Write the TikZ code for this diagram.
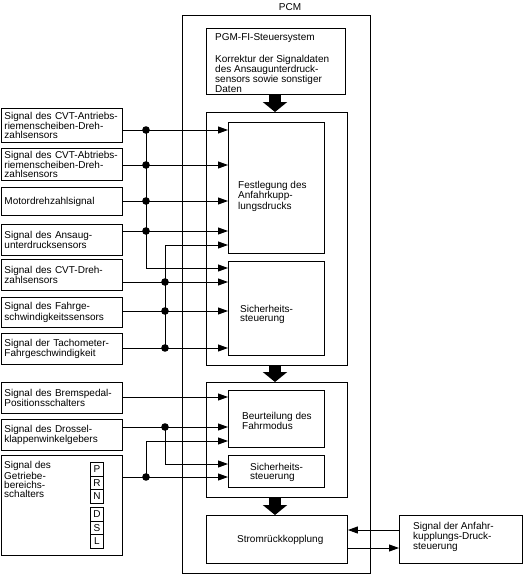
\documentclass[tikz,border=0pt]{standalone}
\usepackage{fontspec}
\setmainfont{Liberation Sans}
\usetikzlibrary{arrows.meta}
\newcommand\dfont{\fontsize{10pt}{9.3pt}\selectfont}
\newcommand\pfont{\fontsize{10pt}{8.5pt}\selectfont}
\begin{document}
\begin{tikzpicture}[x=1pt,y=-1pt,
  every node/.style={font=\dfont},
  box/.style={draw, line width=0.9pt, inner sep=0pt, anchor=north west},
  lbox/.style={box, text width=115pt, inner xsep=3pt, align=left},
  cell/.style={box, minimum width=13pt, minimum height=13.5pt, align=center},
  txt/.style={anchor=north west, inner sep=0pt, align=left},
  sig/.style={line width=0.9pt, -{Triangle[length=10pt,width=7pt]}},
  bus/.style={line width=0.9pt},
  fat/.style={line width=12pt, -{Triangle[length=10pt,width=24pt]}},
  dot/.style={fill=black}
]
\useasboundingbox (0,0) rectangle (523,574);

% PCM frame
\node[box, minimum width=188pt, minimum height=558pt] (pcm) at (182,15) {};
\node (pcmlabel) at (290,7) {PCM};

% PGM-FI box
\node[box, minimum width=139pt, minimum height=66pt] (pgm) at (206,28) {};
\node[txt, font=\pfont] (pgmtext) at (215,33) {PGM-FI-Steuersystem\\[11.5pt]Korrektur der Signaldaten\\des Ansaugunterdruck-\\sensors sowie sonstiger\\Daten};

% block 1
\node[box, minimum width=141pt, minimum height=253pt] (blk1) at (206,112) {};
\node[box, minimum width=96pt, minimum height=131pt] (fest) at (228,122) {};
\node[txt] (festtext) at (238,181) {Festlegung des\\Anfahrkupp-\\lungsdrucks};
\node[box, minimum width=96pt, minimum height=94pt] (sich1) at (228,261) {};
\node[txt] (sich1text) at (240,305) {Sicherheits-\\steuerung};

% block 2
\node[box, minimum width=141pt, minimum height=115pt] (blk2) at (206,382) {};
\node[box, minimum width=96pt, minimum height=57pt] (beurt) at (228,390) {};
\node[txt] (beurttext) at (242,412) {Beurteilung des\\Fahrmodus};
\node[box, minimum width=96pt, minimum height=32pt] (sich2) at (228,455) {};
\node[txt] (sich2text) at (250,463) {Sicherheits-\\steuerung};

% Stromrueckkopplung
\node[box, minimum width=141pt, minimum height=48pt] (strom) at (206,515) {};
\node[anchor=west, inner sep=0pt] (stromtext) at (237,540) {Stromrückkopplung};

% right box
\node[box, minimum width=123pt, minimum height=48pt] (rbox) at (399,515) {};
\node[txt] (rboxtext) at (413,522) {Signal der Anfahr-\\kupplungs-Druck-\\steuerung};

% left signal boxes
\node[lbox, minimum height=34pt] (b1) at (1,108) {Signal des CVT-Antriebs-\\riemenscheiben-Dreh-\\zahlsensors};
\node[lbox, minimum height=32pt] (b2) at (1,148) {Signal des CVT-Abtriebs-\\riemenscheiben-Dreh-\\zahlsensors};
\node[lbox, minimum height=28pt] (b3) at (1,187) {Motordrehzahlsignal};
\node[lbox, minimum height=31pt] (b4) at (1,224) {Signal des Ansaug-\\unterdrucksensors};
\node[lbox, minimum height=31pt] (b5) at (1,259) {Signal des CVT-Dreh-\\zahlsensors};
\node[lbox, minimum height=30pt] (b6) at (1,297) {Signal des Fahrge-\\schwindigkeitssensors};
\node[lbox, minimum height=31pt] (b7) at (1,333) {Signal der Tachometer-\\Fahrgeschwindigkeit};
\node[lbox, minimum height=31pt] (b8) at (1,382) {Signal des Bremspedal-\\Positionsschalters};
\node[lbox, minimum height=31pt] (b9) at (1,419) {Signal des Drossel-\\klappenwinkelgebers};
\node[box, minimum width=121pt, minimum height=100pt] (b10) at (1,455) {};
\node[txt] (b10text) at (4,461.5) {Signal des\\Getriebe-\\bereichs-\\schalters};
\node[cell] (gP) at (90,462) {P};
\node[cell] (gR) at (90,475.5) {R};
\node[cell] (gN) at (90,489) {N};
\node[cell] (gD) at (90,507) {D};
\node[cell] (gS) at (90,520.5) {S};
\node[cell] (gL) at (90,534) {L};

% coordinates
\coordinate (ax) at (275,0);
\foreach \n/\y in {y1/130,y2/165,y3/201,y4/231,yb/245,ya/268,y5/282,y6/311,y7/348,
                   y8/397,y9/427,yd/441,yc/464,y10/477,yr1/530,yr2/548}
  {\coordinate (\n) at (0,\y);}
\coordinate (xA) at (146,0);
\coordinate (xB) at (165,0);

% thick flow arrows
\draw[fat] (pgm.south -| ax) -- (blk1.north -| ax);
\draw[fat] (blk1.south -| ax) -- (blk2.north -| ax);
\draw[fat] (blk2.south -| ax) -- (strom.north -| ax);

% upper signal lines
\draw[sig] (b1.east |- y1) -- (fest.west |- y1);
\draw[sig] (b2.east |- y2) -- (fest.west |- y2);
\draw[sig] (b3.east |- y3) -- (fest.west |- y3);
\draw[sig] (b4.east |- y4) -- (fest.west |- y4);
\draw[sig] (xA |- y1) -- (xA |- ya) -- (sich1.west |- ya);
\draw[sig] (xB |- y7) -- (xB |- yb) -- (fest.west |- yb);
\draw[sig] (b5.east |- y5) -- (sich1.west |- y5);
\draw[sig] (b6.east |- y6) -- (sich1.west |- y6);
\draw[sig] (b7.east |- y7) -- (sich1.west |- y7);
\foreach \p in {y1,y2,y3,y4} {\fill[dot] (xA |- \p) circle (3.8pt);}
\foreach \p in {y5,y6,y7} {\fill[dot] (xB |- \p) circle (3.8pt);}

% lower signal lines
\draw[sig] (b8.east |- y8) -- (beurt.west |- y8);
\draw[sig] (b9.east |- y9) -- (beurt.west |- y9);
\draw[sig] (xB |- y9) -- (xB |- yc) -- (sich2.west |- yc);
\draw[sig] (b10.east |- y10) -- (sich2.west |- y10);
\draw[sig] (xA |- y10) -- (xA |- yd) -- (beurt.west |- yd);
\fill[dot] (xB |- y9) circle (3.8pt);
\fill[dot] (xA |- y10) circle (3.8pt);

% right side
\draw[sig] (rbox.west |- yr1) -- (strom.east |- yr1);
\draw[sig] (strom.east |- yr2) -- (rbox.west |- yr2);
\end{tikzpicture}
\end{document}
